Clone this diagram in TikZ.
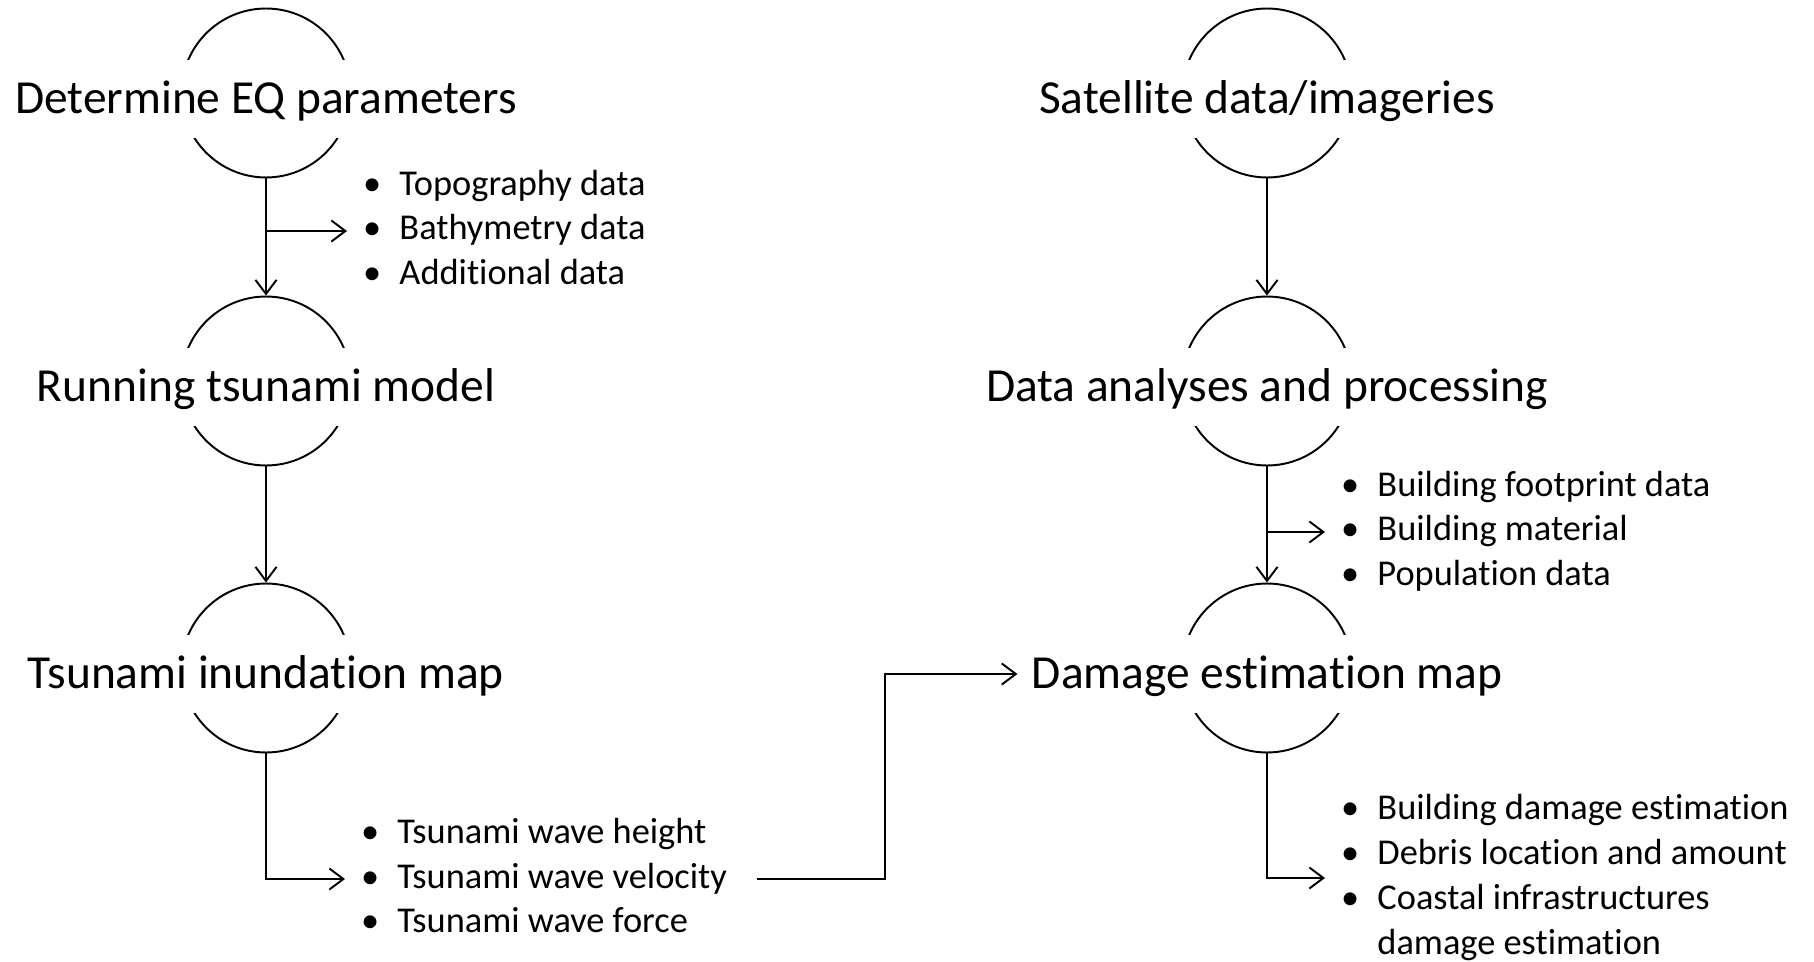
\documentclass[tikz,border=0pt]{standalone}
\usepackage{fontspec}
\setmainfont{Carlito}[Ligatures=NoCommon]
\usetikzlibrary{arrows.meta}

\tikzset{
  stage/.style={draw, circle, minimum size=3.38cm, inner sep=0pt, line width=1.1pt},
  stagetext/.style={fill=white, inner xsep=8pt, inner ysep=8.5pt, yshift=-0.12cm,
    text height=21.6pt, text depth=5.4pt, font=\fontsize{27}{32}\selectfont},
  bullets/.style={anchor=west, inner xsep=9pt, inner ysep=0pt,
    font=\fontsize{20.7}{25.6}\selectfont},
  link/.style={line width=1.1pt, -{Straight Barb[length=8pt,width=12pt]}},
}

\begin{document}
\begin{tikzpicture}[x=0.02cm, y=-0.02cm]
\useasboundingbox (0,0) rectangle (1814,962);

% tsunami side
\node[stage] (eq) at (266,93) {};
\node[stagetext] (eqtxt) at (eq) {Determine EQ parameters};
\node[stage] (model) at (266,381) {};
\node[stagetext] (modeltxt) at (model) {Running tsunami model};
\node[stage] (inund) at (266,668) {};
\node[stagetext] (inundtxt) at (inund) {Tsunami inundation map};

\node[bullets] (inputs) at (347,231) {\begin{tabular}{@{}l@{\hspace{0.5em}}l@{}}
\textbullet & Topography data\\
\textbullet & Bathymetry data\\
\textbullet & Additional data
\end{tabular}};
\node[bullets] (waves) at (345,879) {\begin{tabular}{@{}l@{\hspace{0.5em}}l@{}}
\textbullet & Tsunami wave height\\
\textbullet & Tsunami wave velocity\\
\textbullet & Tsunami wave force
\end{tabular}};

% damage side
\node[stage] (sat) at (1267,93) {};
\node[stagetext] (sattxt) at (sat) {Satellite data/imageries};
\node[stage] (proc) at (1267,381) {};
\node[stagetext] (proctxt) at (proc) {Data analyses and processing};
\node[stage] (dmg) at (1267,668) {};
\node[stagetext] (dmgtxt) at (dmg) {Damage estimation map};

\node[bullets] (bldg) at (1325,532) {\begin{tabular}{@{}l@{\hspace{0.5em}}l@{}}
\textbullet & Building footprint data\\
\textbullet & Building material\\
\textbullet & Population data
\end{tabular}};
\node[bullets] (results) at (1325,878) {\begin{tabular}{@{}l@{\hspace{0.5em}}l@{}}
\textbullet & Building damage estimation\\
\textbullet & Debris location and amount\\
\textbullet & Coastal infrastructures\\
 & damage estimation
\end{tabular}};

\coordinate (bend) at (885,0);

% connectors
\draw[link] (eq) -- (model);
\draw[link] (eq.south |- inputs.west) -- (inputs.west);
\draw[link] (model) -- (inund);
\draw[link] (inund.south) |- (waves.west);
\draw[link] ([xshift=0.28cm]waves.east) -| (bend |- dmgtxt.west) -- (dmgtxt.west);
\draw[link] (sat) -- (proc);
\draw[link] (proc) -- (dmg);
\draw[link] (proc.south |- bldg.west) -- (bldg.west);
\draw[link] (dmg.south) |- (results.west);
\end{tikzpicture}
\end{document}
